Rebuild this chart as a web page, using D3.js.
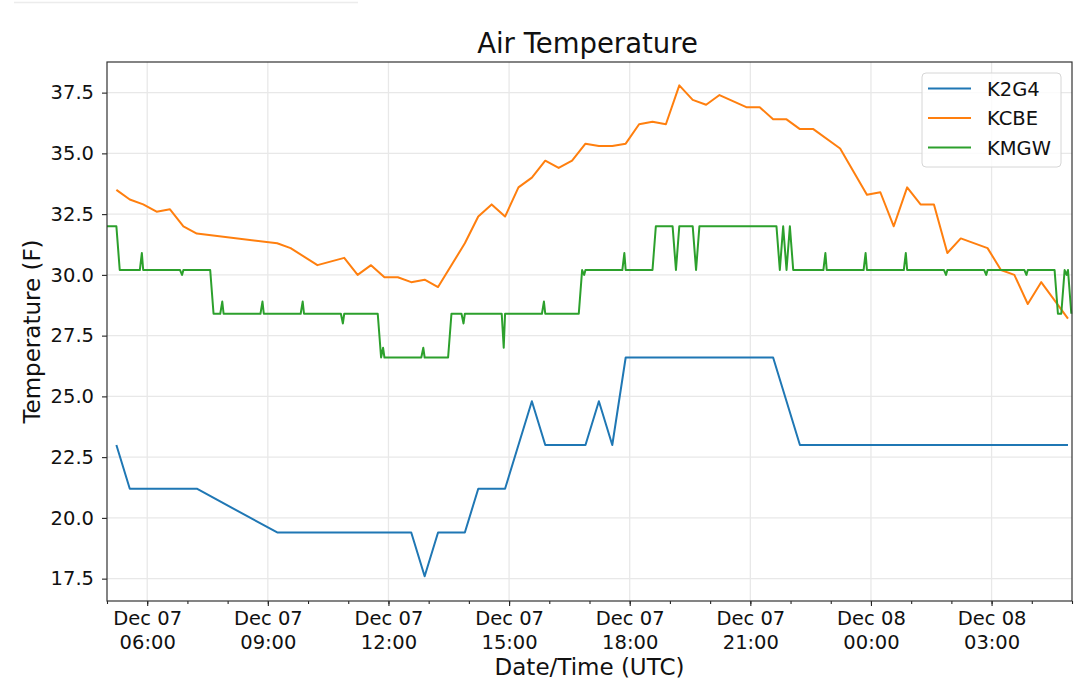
<!DOCTYPE html>
<html>
<head>
<meta charset="utf-8">
<script src="https://cdn.jsdelivr.net/npm/d3@7"></script>
<style>
  body { margin: 0; background: #fff; }
  svg { font-family: "DejaVu Sans", sans-serif; }
</style>
</head>
<body>
<svg class="linechart" width="1080" height="694"></svg>
<script>
// station series, times are UTC (month-day hour:minute)
let stations = ["K2G4", "KCBE", "KMGW"];
let colors = ["#1f77b4", "#ff7f0e", "#2ca02c"];

let k2g4Times = ["12-07 05:14","12-07 05:34","12-07 07:14","12-07 09:14","12-07 12:34","12-07 12:54",
  "12-07 13:14","12-07 13:54","12-07 14:14","12-07 14:54","12-07 15:34","12-07 15:54","12-07 16:54",
  "12-07 17:14","12-07 17:34","12-07 17:54","12-07 21:34","12-07 22:14","12-08 04:54"];
let k2g4Temps = [23.0,21.2,21.2,19.4,19.4,17.6,19.4,19.4,21.2,21.2,24.8,23.0,23.0,24.8,23.0,26.6,26.6,23.0,23.0];

let kcbeTimes = ["12-07 05:14","12-07 05:34","12-07 05:54","12-07 06:14","12-07 06:34","12-07 06:54",
  "12-07 07:14","12-07 09:14","12-07 09:34","12-07 10:14","12-07 10:54","12-07 11:14","12-07 11:34",
  "12-07 11:54","12-07 12:14","12-07 12:34","12-07 12:54","12-07 13:14","12-07 13:54","12-07 14:14",
  "12-07 14:34","12-07 14:54","12-07 15:14","12-07 15:34","12-07 15:54","12-07 16:14","12-07 16:34",
  "12-07 16:54","12-07 17:14","12-07 17:34","12-07 17:54","12-07 18:14","12-07 18:34","12-07 18:54",
  "12-07 19:14","12-07 19:34","12-07 19:54","12-07 20:14","12-07 20:54","12-07 21:14","12-07 21:34",
  "12-07 21:54","12-07 22:14","12-07 22:34","12-07 23:14","12-07 23:54","12-08 00:14","12-08 00:34",
  "12-08 00:54","12-08 01:14","12-08 01:34","12-08 01:54","12-08 02:14","12-08 02:54","12-08 03:14",
  "12-08 03:34","12-08 03:54","12-08 04:14","12-08 04:54"];
let kcbeTemps = [33.5,33.1,32.9,32.6,32.7,32.0,31.7,31.3,31.1,30.4,30.7,30.0,30.4,29.9,29.9,29.7,29.8,29.5,
  31.3,32.4,32.9,32.4,33.6,34.0,34.7,34.4,34.7,35.4,35.3,35.3,35.4,36.2,36.3,36.2,37.8,37.2,37.0,37.4,
  36.9,36.9,36.4,36.4,36.0,36.0,35.2,33.3,33.4,32.0,33.6,32.9,32.9,30.9,31.5,31.1,30.2,30.0,28.8,29.7,28.2];

let kmgwTimes = ["12-07 05:00","12-07 05:14","12-07 05:19","12-07 05:49","12-07 05:52","12-07 05:54",
  "12-07 06:49","12-07 06:52","12-07 06:54","12-07 07:34","12-07 07:39","12-07 07:49","12-07 07:52",
  "12-07 07:54","12-07 08:49","12-07 08:52","12-07 08:54","12-07 09:49","12-07 09:52","12-07 09:54",
  "12-07 10:49","12-07 10:52","12-07 10:54","12-07 11:44","12-07 11:49","12-07 11:52","12-07 11:54",
  "12-07 12:49","12-07 12:52","12-07 12:54","12-07 13:29","12-07 13:34","12-07 13:49","12-07 13:52",
  "12-07 13:54","12-07 14:49","12-07 14:52","12-07 14:54","12-07 15:49","12-07 15:52","12-07 15:54",
  "12-07 16:44","12-07 16:49","12-07 16:52","12-07 16:54","12-07 17:49","12-07 17:52","12-07 17:54",
  "12-07 18:34","12-07 18:39","12-07 19:04","12-07 19:09","12-07 19:14","12-07 19:34","12-07 19:39",
  "12-07 19:44","12-07 21:39","12-07 21:44","12-07 21:49","12-07 21:54","12-07 21:59","12-07 22:04",
  "12-07 22:49","12-07 22:52","12-07 22:54","12-07 23:49","12-07 23:52","12-07 23:54","12-08 00:49",
  "12-08 00:52","12-08 00:54","12-08 01:49","12-08 01:52","12-08 01:54","12-08 02:49","12-08 02:52",
  "12-08 02:54","12-08 03:49","12-08 03:52","12-08 03:54","12-08 04:34","12-08 04:39","12-08 04:44",
  "12-08 04:49","12-08 04:52","12-08 04:54","12-08 04:59"];
let kmgwTemps = [32.0,32.0,30.2,30.2,30.9,30.2,30.2,30.0,30.2,30.2,28.4,28.4,28.9,28.4,28.4,28.9,28.4,
  28.4,28.9,28.4,28.4,28.0,28.4,28.4,26.6,27.0,26.6,26.6,27.0,26.6,26.6,28.4,28.4,28.0,28.4,28.4,27.0,
  28.4,28.4,28.9,28.4,28.4,30.2,30.0,30.2,30.2,30.9,30.2,30.2,32.0,32.0,30.2,32.0,32.0,30.2,32.0,32.0,
  30.2,32.0,30.2,32.0,30.2,30.2,30.9,30.2,30.2,30.9,30.2,30.2,30.9,30.2,30.2,30.0,30.2,30.2,30.0,30.2,
  30.2,30.0,30.2,30.2,28.4,28.4,30.2,30.0,30.2,28.4];

let yTicks = [17.5, 20.0, 22.5, 25.0, 27.5, 30.0, 32.5, 35.0, 37.5];
let timeRange = ["12-07 05:00", "12-08 05:00"];
let tempRange = [16.58, 38.76];

let parseTime = d3.utcParse("%m-%d %H:%M");
let monthDay = d3.utcFormat("%b %d");
let hourMin = d3.utcFormat("%H:%M");

let series = [
  {name: stations[0], color: colors[0], rows: k2g4Times.map((t, i) => ({t: parseTime(t), v: k2g4Temps[i]}))},
  {name: stations[1], color: colors[1], rows: kcbeTimes.map((t, i) => ({t: parseTime(t), v: kcbeTemps[i]}))},
  {name: stations[2], color: colors[2], rows: kmgwTimes.map((t, i) => ({t: parseTime(t), v: kmgwTemps[i]}))}
];

let svg = d3.select("body").select(".linechart");
let margin = {top: 62, right: 8, bottom: 93, left: 107};
let plotWidth = 1080 - margin.left - margin.right;
let plotHeight = 694 - margin.top - margin.bottom;

// faint strip left at the very top of the screenshot
svg.append("line")
  .attr("x1", 14).attr("x2", 358).attr("y1", 2.5).attr("y2", 2.5)
  .attr("stroke", "#ececec").attr("stroke-width", 1.5);

//scales
let xScale = d3.scaleUtc()
  .domain(timeRange.map(parseTime))
  .range([0, plotWidth]);
let yScale = d3.scaleLinear()
  .domain(tempRange)
  .range([plotHeight, 0]);

let plot = svg.append("g").attr("id", "plot")
  .attr("transform", translate(margin.left, margin.top));

//grid
let majorHours = d3.utcHour.every(3).range(xScale.domain()[0], xScale.domain()[1]);
plot.append("g").attr("class", "grid")
  .selectAll("line.vx").data(majorHours).join("line")
  .attr("x1", d => xScale(d)).attr("x2", d => xScale(d))
  .attr("y1", 0).attr("y2", plotHeight)
  .attr("stroke", "#e8e8e8").attr("stroke-width", 1.3);
plot.append("g").attr("class", "grid")
  .selectAll("line.hy").data(yTicks).join("line")
  .attr("x1", 0).attr("x2", plotWidth)
  .attr("y1", d => yScale(d)).attr("y2", d => yScale(d))
  .attr("stroke", "#e8e8e8").attr("stroke-width", 1.3);

//lines
let line = d3.line().x(d => xScale(d.t)).y(d => yScale(d.v));
series.forEach(s => {
  plot.append("path")
    .datum(s.rows)
    .attr("fill", "none")
    .attr("stroke", s.color)
    .attr("stroke-width", 2)
    .attr("stroke-linejoin", "round")
    .attr("d", line);
});

//axes
let yAxis = d3.axisLeft(yScale).tickValues(yTicks).tickFormat(d3.format(".1f"))
  .tickSize(5).tickPadding(8);
let yGroup = plot.append("g").attr("id", "y-axis").call(yAxis);

let minorAxis = d3.axisBottom(xScale).ticks(d3.utcHour.every(1)).tickFormat("").tickSize(3);
let minorGroup = plot.append("g").attr("id", "x-minor").call(minorAxis)
  .attr("transform", translate(0, plotHeight));

let xAxis = d3.axisBottom(xScale).tickValues(majorHours).tickSize(5).tickPadding(5);
let xGroup = plot.append("g").attr("id", "x-axis").call(xAxis)
  .attr("transform", translate(0, plotHeight));
xGroup.selectAll(".tick text").each(function(d) {
  let txt = d3.select(this).text(null).attr("dy", null);
  txt.append("tspan").attr("x", 0).attr("dy", "0.71em").text(monthDay(d));
  txt.append("tspan").attr("x", 0).attr("dy", "1.23em").text(hourMin(d));
});

[yGroup, xGroup, minorGroup].forEach(g => {
  g.select(".domain").remove();
  g.selectAll("text").attr("font-size", 19.5).attr("font-family", "DejaVu Sans").attr("fill", "#111");
  g.selectAll("line").attr("stroke", "#222").attr("stroke-width", 1.1);
});

//frame
plot.append("rect")
  .attr("width", plotWidth).attr("height", plotHeight)
  .attr("fill", "none").attr("stroke", "#333").attr("stroke-width", 1.2);

//title and labels
svg.append("text")
  .attr("x", margin.left + plotWidth / 2 - 2).attr("y", 53)
  .attr("text-anchor", "middle").attr("font-size", 27.5).attr("fill", "#111")
  .text("Air Temperature");
svg.append("text")
  .attr("class", "x-axis-label")
  .attr("x", margin.left + plotWidth / 2).attr("y", 675)
  .attr("text-anchor", "middle").attr("font-size", 23).attr("fill", "#111")
  .text("Date/Time (UTC)");
svg.append("text")
  .attr("class", "y-axis-label")
  .attr("transform", translate(40, margin.top + plotHeight / 2) + " rotate(-90)")
  .attr("text-anchor", "middle").attr("font-size", 23).attr("fill", "#111")
  .text("Temperature (F)");

//legend
let legend = svg.append("g").attr("class", "legend").attr("transform", translate(922, 73));
legend.append("rect")
  .attr("width", 139).attr("height", 94).attr("rx", 4)
  .attr("fill", "#fff").attr("fill-opacity", 0.8)
  .attr("stroke", "#d6d6d6").attr("stroke-width", 1);
let entries = legend.selectAll("g.entry").data(series).join("g")
  .attr("class", "entry")
  .attr("transform", (d, i) => translate(0, 15.5 + i * 29.5));
entries.append("line")
  .attr("x1", 6).attr("x2", 49)
  .attr("stroke", d => d.color).attr("stroke-width", 2);
entries.append("text")
  .attr("x", 65).attr("dy", "0.36em")
  .attr("font-size", 19.5).attr("fill", "#111")
  .text(d => d.name);

function translate(x, y) {
  return 'translate(' + x + ',' + y + ')';
}
</script>
</body>
</html>
